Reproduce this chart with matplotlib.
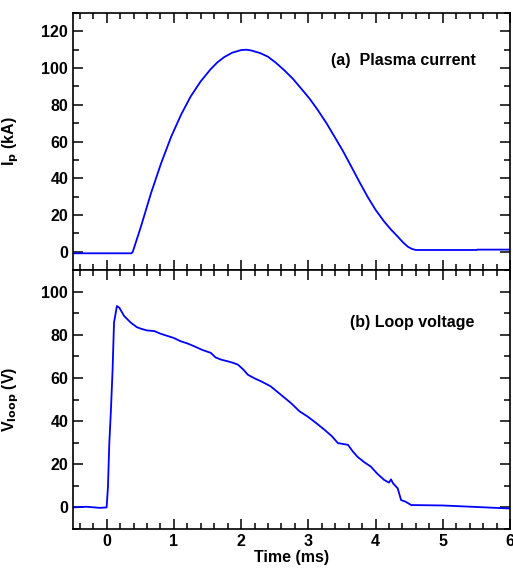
import matplotlib
matplotlib.use("Agg")
import matplotlib.pyplot as plt
from matplotlib.ticker import MultipleLocator

plt.rcParams['font.family'] = ['Liberation Sans', 'DejaVu Sans']
plt.rcParams['font.weight'] = 'bold'
plt.rcParams['mathtext.default'] = 'bf'

# Plasma current (kA)
t_ip = [-0.5, 0.0, 0.37, 0.39, 0.51, 0.66, 0.81, 0.96, 1.11, 1.25, 1.40, 1.55, 1.65, 1.75,
        1.87, 2.0, 2.08, 2.15, 2.28, 2.40, 2.52, 2.64, 2.77, 2.89, 3.02, 3.14, 3.27, 3.39,
        3.52, 3.64, 3.76, 3.88, 4.0, 4.13, 4.23, 4.33, 4.41, 4.48, 4.54, 4.60, 5.5, 5.52, 6.0]
ip = [-0.9, -0.9, -0.9, 0.0, 13.6, 31.8, 48.1, 62.6, 74.8, 84.5, 92.8, 99.5, 103.2, 106.0,
      108.4, 109.8, 110.0, 109.6, 108.2, 106.2, 102.8, 98.9, 94.2, 89.0, 83.3, 77.2, 70.0, 62.6,
      54.5, 46.3, 38.0, 30.0, 22.8, 16.3, 12.0, 8.2, 5.0, 2.7, 1.5, 0.9, 0.9, 1.1, 1.1]

# Loop voltage (V)
t_v = [-0.5, -0.3, -0.1, 0.0, 0.02, 0.04, 0.064, 0.089, 0.11, 0.153, 0.19, 0.26, 0.36, 0.45,
       0.51, 0.6, 0.71, 0.8, 0.91, 1.0, 1.1, 1.2, 1.3, 1.42, 1.55, 1.62, 1.7, 1.8, 1.88, 1.95,
       2.03, 2.10, 2.2, 2.3, 2.44, 2.6, 2.74, 2.87, 2.99, 3.1, 3.24, 3.35, 3.44, 3.59, 3.66,
       3.73, 3.83, 3.93, 4.03, 4.13, 4.2, 4.23, 4.26, 4.33, 4.38, 4.45, 4.53, 5.0, 5.5, 6.0]
vloop = [0.0, 0.3, -0.2, 0.0, 9.6, 29.8, 45.0, 63.9, 85.6, 93.3, 92.5, 88.7, 85.6, 83.5,
         82.8, 82.0, 81.7, 80.5, 79.4, 78.5, 77.0, 76.0, 74.7, 73.0, 71.6, 69.5, 68.5, 67.7, 67.0, 66.2,
         64.0, 61.5, 59.8, 58.4, 56.1, 52.0, 48.4, 44.5, 42.1, 39.5, 36.0, 33.0, 29.8, 29.0, 26.0,
         23.5, 21.0, 18.9, 15.5, 12.7, 11.5, 13.0, 11.2, 8.8, 3.4, 2.6, 1.1, 0.9, 0.2, -0.5]

W, H = 513, 569
fig = plt.figure(figsize=(W / 100, H / 100), dpi=100)
L, R = 73 / W, 510 / W
ax1 = fig.add_axes([L, 1 - 270 / H, R - L, 257 / H])
ax2 = fig.add_axes([L, 1 - 529 / H, R - L, 259 / H])

blue = '#0000ff'
ax1.plot(t_ip, ip, color=blue, lw=1.3)
ax2.plot(t_v, vloop, color=blue, lw=1.3)

ax1.set_xlim(-0.5, 6)
ax2.set_xlim(-0.5, 6)
ax1.set_ylim(-10, 130)
ax2.set_ylim(-10, 110)

for ax in (ax1, ax2):
    for s in ax.spines.values():
        s.set_linewidth(1.2)
    ax.xaxis.set_major_locator(MultipleLocator(1))
    ax.xaxis.set_minor_locator(MultipleLocator(0.2))
    ax.yaxis.set_major_locator(MultipleLocator(20))
    ax.yaxis.set_minor_locator(MultipleLocator(10))
    ax.tick_params(which='both', direction='in', top=True, right=True, width=1.1,
                   labelsize=11.5)
    ax.tick_params(which='major', length=7)
    ax.tick_params(which='minor', length=4)
    for lab in ax.get_xticklabels() + ax.get_yticklabels():
        lab.set_fontweight('bold')

ax1.tick_params(labelbottom=False)
ax1.set_ylabel(r'I$_\mathbf{p}$ (kA)', fontsize=11.5, fontweight='bold')
ax2.set_ylabel(r'V$_\mathbf{loop}$ (V)', fontsize=11.5, fontweight='bold')
ax1.yaxis.set_label_coords(-0.12, 0.5)
ax2.yaxis.set_label_coords(-0.12, 0.5)
ax2.set_xlabel('Time (ms)', fontsize=11.5, fontweight='bold', labelpad=1)

ax1.text(4.41, 104, '(a)  Plasma current', ha='center', va='center',
         fontsize=11.5, fontweight='bold')
ax2.text(4.54, 85.7, '(b) Loop voltage', ha='center', va='center',
         fontsize=11.5, fontweight='bold')

fig.savefig('out.png', dpi=100)
